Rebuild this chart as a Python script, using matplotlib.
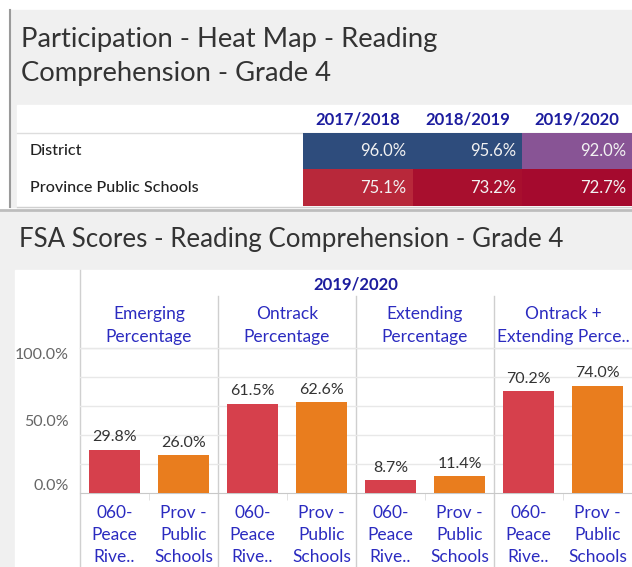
import numpy as np
import matplotlib
matplotlib.use("Agg")
import matplotlib.pyplot as plt
from matplotlib.colors import LinearSegmentedColormap, Normalize
from matplotlib.patches import Rectangle
from matplotlib.lines import Line2D
from matplotlib import transforms

plt.rcParams['font.family'] = ['Lato', 'DejaVu Sans']

# --- data ---
years = ["2017/2018", "2018/2019", "2019/2020"]
rows = ["District", "Province Public Schools"]
district = [96.0, 95.6, 92.0]
province = [75.1, 73.2, 72.7]

fsa_year = "2019/2020"
measures = ["Emerging\nPercentage", "Ontrack\nPercentage", "Extending\nPercentage",
            "Ontrack +\nExtending Perce.."]
groups = ["060-\nPeace\nRive..", "Prov -\nPublic\nSchools"]
district_pct = [29.8, 61.5, 8.7, 70.2]
province_pct = [26.0, 62.6, 11.4, 74.0]

W, H = 632, 567
fig = plt.figure(figsize=(W / 100, H / 100), dpi=100, facecolor="white")


def fx(x):
    return x / W


def fy(y):
    return 1 - y / H


def box(x0, y0, x1, y1):
    return [fx(x0), fy(y1), fx(x1) - fx(x0), fy(y0) - fy(y1)]


def rect(x0, y0, x1, y1, color):
    fig.patches.append(Rectangle((fx(x0), fy(y1)), fx(x1) - fx(x0), fy(y0) - fy(y1),
                                 transform=fig.transFigure, color=color, zorder=-2))


def line(x0, y0, x1, y1, color, lw=1):
    fig.lines.append(Line2D([fx(x0), fx(x1)], [fy(y0), fy(y1)], transform=fig.transFigure,
                            color=color, lw=lw, zorder=-1))


title_col = "#333333"
navy = "#1c1c9e"
blue = "#2b2bc0"

# backgrounds
rect(10, 10, 632, 207, "#f0f0f0")
rect(0, 212, 632, 567, "#f0f0f0")
rect(17, 105, 632, 207, "white")
rect(15, 270, 632, 567, "white")
line(10, 10, 10, 207, "#9a9a9a", 1.5)
line(0, 209.5, 632, 209.5, "#bdbdbd", 2)
line(17, 133, 632, 133, "#dddddd")
line(17, 206.5, 632, 206.5, "#d0d0d0")

# titles
fig.text(fx(21), fy(39), "Participation - Heat Map - Reading", fontsize=19.7, color=title_col, va="center")
fig.text(fx(21), fy(74), "Comprehension - Grade 4", fontsize=19.7, color=title_col, va="center")
fig.text(fx(19), fy(240), "FSA Scores - Reading Comprehension - Grade 4", fontsize=18.6,
         color=title_col, va="center")

# --- heat map ---
anchors = [72.7, 73.2, 75.1, 92.0, 95.6, 96.0]
acolors = ["#a50a2e", "#a8102e", "#b8283a", "#8a5496", "#2e4c7c", "#2e4c7c"]
lo, hi = anchors[0], anchors[-1]
cmap = LinearSegmentedColormap.from_list(
    "heat", [((a - lo) / (hi - lo), c) for a, c in zip(anchors, acolors)])

hm = np.array([district, province])
axh = fig.add_axes(box(303, 133, 632, 206))
axh.pcolormesh(hm, cmap=cmap, norm=Normalize(lo, hi))
axh.set_xlim(0, len(years))
axh.set_ylim(len(rows), 0)
axh.axis("off")
shift = transforms.ScaledTranslation(-6 / 100, 0, fig.dpi_scale_trans)
for i in range(len(rows)):
    for j in range(len(years)):
        axh.text(j + 1, i + 0.5, f"{hm[i, j]:.1f}%", ha="right", va="center",
                 color="#f2f2f2", fontsize=12, transform=axh.transData + shift)
for j, yr in enumerate(years):
    axh.text(j + 0.5, -0.37, yr, ha="center", va="center", color=navy, fontsize=12,
             fontweight="bold", clip_on=False)
rt = transforms.blended_transform_factory(fig.transFigure, axh.transData)
for i, r in enumerate(rows):
    fig.text(fx(30), i + 0.5, r, fontsize=11.6, color="#222222", va="center",
             fontweight="medium", transform=rt)

# --- bar chart ---
ax = fig.add_axes(box(80, 348, 632, 493))
n = len(measures)
x_d = np.arange(n) * 2
x_p = np.arange(n) * 2 + 1
vals_d = np.array(district_pct) / 100
vals_p = np.array(province_pct) / 100
bd = ax.bar(x_d, vals_d, width=0.75, color="#d6404c", zorder=3)
bp = ax.bar(x_p, vals_p, width=0.75, color="#e97d1e", zorder=3)
for bars, vals in ((bd, district_pct), (bp, province_pct)):
    for b, v in zip(bars, vals):
        ax.annotate(f"{v:.1f}%", (b.get_x() + b.get_width() / 2, b.get_height()),
                    xytext=(0, 4), textcoords="offset points", ha="center", va="bottom",
                    fontsize=11.5, color="#333333")

ax.set_xlim(-0.5, 2 * n - 0.5)
ax.set_ylim(0, 1.0)
for g in [0.2, 0.4, 0.6, 0.8, 1.0]:
    ax.axhline(g, color="#e8e8e8", lw=1, zorder=0)
ax.set_facecolor("none")
for s in ["top", "right", "left"]:
    ax.spines[s].set_visible(False)
ax.spines["bottom"].set_color("#c8c8c8")

ax.set_yticks([0, 0.5, 1.0])
ax.set_yticklabels(["0.0%", "50.0%", "100.0%"], fontsize=11.5, color="#666666")
ax.tick_params(axis="y", length=0, pad=8)
ylabs = ax.get_yticklabels()
ylabs[0].set_va("bottom")
ylabs[2].set_va("top")

ax.set_xticks(np.arange(2 * n))
ax.set_xticklabels(groups * n, fontsize=12.5, color=blue, linespacing=1.45)
ax.tick_params(axis="x", length=0, pad=9)
ax.set_xticks(np.arange(n) * 2 + 0.5, minor=True)
ax.tick_params(axis="x", which="minor", length=5, color="#dddddd")

# panel separators and header lines
bt = transforms.blended_transform_factory(ax.transData, fig.transFigure)
line(80, 270, 80, 567, "#d0d0d0")
line(80, 347.5, 632, 347.5, "#e2e2e2")
for k in range(1, n):
    xb = 2 * k - 0.5
    fig.lines.append(Line2D([xb, xb], [fy(296), fy(567)], transform=bt, color="#cfcfcf",
                            lw=1, zorder=-1))
ax.text((2 * n - 1) / 2, fy(285), fsa_year, transform=bt, ha="center", va="center",
        fontsize=12, fontweight="bold", color=navy)
for k, m in enumerate(measures):
    ax.text(2 * k + 0.5, fy(325.5), m, transform=bt, ha="center", va="center",
            fontsize=12.5, color=blue, linespacing=1.5)

fig.savefig("out.png", dpi=100, facecolor=fig.get_facecolor())
